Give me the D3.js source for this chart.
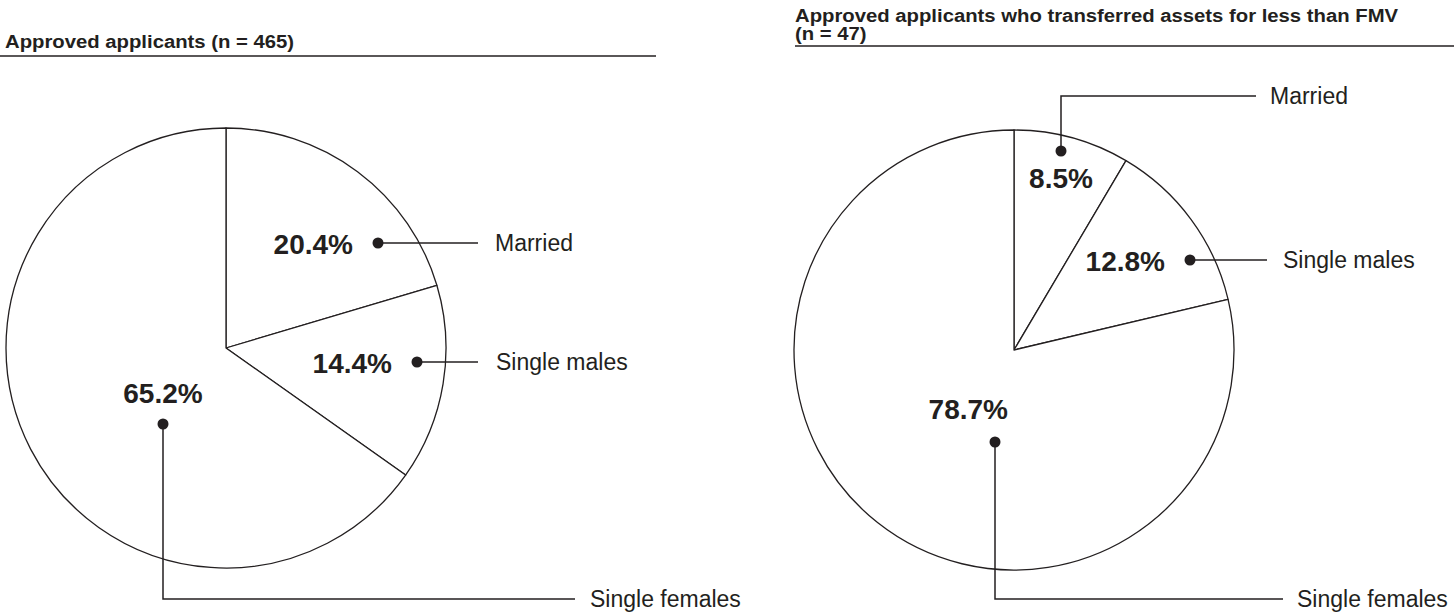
<!DOCTYPE html>
<html>
<head>
<meta charset="utf-8">
<script src="https://cdn.jsdelivr.net/npm/d3@7"></script>
<style>
  body { margin: 0; background: #fff; }
  svg text { font-family: "Liberation Sans", Arial, Helvetica, sans-serif; fill: #231f20; }
</style>
</head>
<body>
<svg id="chart" width="1454" height="613"></svg>
<script>
var categories = ["Married", "Single males", "Single females"];
var approvedValues = [20.4, 14.4, 65.2];
var transferValues = [8.5, 12.8, 78.7];
var approvedTitle = ["Approved applicants (n = 465)"];
var transferTitle = ["Approved applicants who transferred assets for less than FMV", "(n = 47)"];

var ink = "#231f20";
var svg = d3.select("#chart");

// label layout per pie: dot offset from centre, where the % text sits, leader shape
var approvedLabels = [
    {dot: [152, -105], pct: "left", leader: "h", lineEnd: 478, textX: 495},
    {dot: [191, 14], pct: "left", leader: "h", lineEnd: 478, textX: 496},
    {dot: [-63, 76], pct: "above", leader: "down", turnY: 599, lineEnd: 575, textX: 590}
];
var transferLabels = [
    {dot: [47, -199], pct: "below", leader: "up", turnY: 96, lineEnd: 1256, textX: 1270},
    {dot: [176, -90], pct: "left", leader: "h", lineEnd: 1267, textX: 1283},
    {dot: [-19, 92], pct: "aboveLeft", leader: "down", turnY: 599, lineEnd: 1283, textX: 1297}
];

function drawPie(opts) {
    var g = svg.append("g");
    var cx = opts.cx, cy = opts.cy, r = opts.r;

    // title lines (set slightly wide, like the original) + rule
    g.selectAll("text.title").data(opts.title).enter().append("text")
        .attr("class", "title")
        .attr("transform", function(d, i) {
            return "translate(" + opts.titleX + "," + (opts.titleY + i * 18) + ") scale(1.16,1)";
        })
        .style("font-size", "17.5px")
        .style("font-weight", "bold")
        .text(function(d) { return d; });
    g.append("line")
        .attr("x1", opts.ruleX[0]).attr("x2", opts.ruleX[1])
        .attr("y1", opts.ruleY).attr("y2", opts.ruleY)
        .attr("stroke", ink).attr("stroke-width", 1.5);

    var data = categories.map(function(c, i) { return {name: c, value: opts.values[i]}; });
    var pie = d3.pie().sort(null).value(function(d) { return d.value; });
    var arc = d3.arc().innerRadius(0).outerRadius(r);

    var pg = g.append("g").attr("transform", "translate(" + cx + "," + cy + ")");
    pg.selectAll("path.slice").data(pie(data)).enter().append("path")
        .attr("class", "slice")
        .attr("d", arc)
        .attr("fill", "#fff")
        .attr("stroke", ink)
        .attr("stroke-width", 1.3)
        .attr("stroke-linejoin", "round");

    data.forEach(function(d, i) {
        var lab = opts.labels[i];
        var dx = cx + lab.dot[0], dy = cy + lab.dot[1];
        var pts;
        if (lab.leader == "h") pts = [[dx, dy], [lab.lineEnd, dy]];
        else pts = [[dx, dy], [dx, lab.turnY], [lab.lineEnd, lab.turnY]];
        g.append("path")
            .attr("d", d3.line()(pts))
            .attr("fill", "none")
            .attr("stroke", ink)
            .attr("stroke-width", 1.5);
        g.append("circle")
            .attr("cx", dx).attr("cy", dy).attr("r", 5.5)
            .attr("fill", ink);
        var ly = lab.leader == "h" ? dy : lab.turnY;
        g.append("text")
            .attr("x", lab.textX)
            .attr("y", ly)
            .attr("dy", "0.35em")
            .style("font-size", "23px")
            .text(d.name);

        var pt = g.append("text")
            .style("font-size", "28px")
            .style("font-weight", "bold")
            .text(d3.format(".1f")(d.value) + "%");
        if (lab.pct == "left") pt.attr("x", dx - 25).attr("y", dy + 11).attr("text-anchor", "end");
        else if (lab.pct == "below") pt.attr("x", dx).attr("y", dy + 37).attr("text-anchor", "middle");
        else if (lab.pct == "above") pt.attr("x", dx).attr("y", dy - 21).attr("text-anchor", "middle");
        else pt.attr("x", dx + 13).attr("y", dy - 23).attr("text-anchor", "end");
    });
}

drawPie({cx: 226, cy: 348, r: 220, values: approvedValues, labels: approvedLabels,
    title: approvedTitle, titleX: 5, titleY: 48, ruleX: [0, 656], ruleY: 56});
drawPie({cx: 1014, cy: 350, r: 220, values: transferValues, labels: transferLabels,
    title: transferTitle, titleX: 795, titleY: 22, ruleX: [795, 1454], ruleY: 46});
</script>
</body>
</html>
